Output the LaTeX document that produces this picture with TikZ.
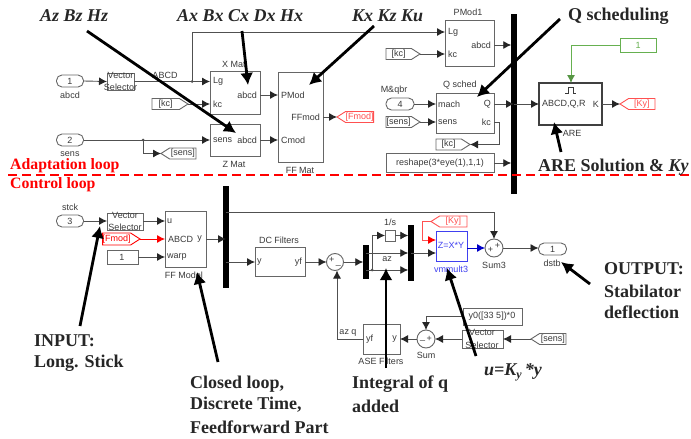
\documentclass[tikz,border=0pt]{standalone}
\usepackage{fontspec}
\setmainfont{Liberation Serif}
\setsansfont{Liberation Sans}
\usetikzlibrary{arrows.meta,shapes.symbols,shapes.geometric}
\definecolor{ln}{HTML}{505050}
\definecolor{tx}{HTML}{3A3A3A}
\definecolor{bx}{HTML}{666666}
\definecolor{rd}{HTML}{FF0000}
\definecolor{lrd}{HTML}{FF5050}
\definecolor{bl}{HTML}{0000C8}
\definecolor{lbl}{HTML}{4040F0}
\definecolor{gr}{HTML}{66B050}
\newcommand{\bk}[6][]{% name x1 y1 x2 y2
  \pgfmathsetmacro{\mycx}{(#3+#5)/2}\pgfmathsetmacro{\mycy}{(#4+#6)/2}%
  \pgfmathsetmacro{\myw}{#5-#3}\pgfmathsetmacro{\myh}{#6-#4}%
  \node[blk,minimum width=\myw pt,minimum height=\myh pt,#1] (#2) at (\mycx,\mycy) {};}
\tikzset{
  x=1pt,y=-1pt,
  blk/.style={draw=bx,line width=.9pt,inner sep=0,outer sep=0,rectangle},
  pill/.style={draw=bx,line width=.9pt,inner sep=0,outer sep=0,rectangle,rounded corners=5.5pt,minimum width=27pt,minimum height=12pt,text=tx,font=\sffamily\fontsize{9}{9}\selectfont},
  lab/.style={inner sep=0,text=tx,font=\sffamily\fontsize{9}{9}\selectfont},
  conn/.style={draw=ln,line width=.9pt,-{Latex[length=8pt,width=8pt,color=black!85]}},
  plain/.style={draw=ln,line width=.9pt},
  tagR/.style={signal,signal to=east,signal from=nowhere,signal pointer angle=65,draw=bx,line width=.9pt,inner sep=0,outer sep=0,minimum height=11pt,anchor=east,text=tx,font=\sffamily\fontsize{9}{9}\selectfont},
  tagL/.style={signal,signal to=west,signal from=nowhere,signal pointer angle=65,draw=bx,line width=.9pt,inner sep=0,outer sep=0,minimum height=11pt,anchor=west,text=tx,font=\sffamily\fontsize{9}{9}\selectfont},
  bus/.style={fill=black,draw=none,inner sep=0,outer sep=0,rectangle},
  sumc/.style={circle,draw=bx,line width=.9pt,inner sep=0,outer sep=0,minimum size=18pt},
  dot/.style={circle,fill=ln,inner sep=0,minimum size=3pt},
  big/.style={line width=2.8pt,draw=black,-{Latex[length=12pt,width=13pt]}},
  note/.style={inner sep=0,anchor=west,font=\fontsize{18}{18}\selectfont\bfseries,text=black!85},
  inote/.style={inner sep=0,anchor=west,font=\fontsize{18}{18}\selectfont\bfseries\itshape,text=black!85},
  rednote/.style={inner sep=0,anchor=west,font=\fontsize{15.8}{16}\selectfont\bfseries,text=rd},
}
\begin{document}
\begin{tikzpicture}
\useasboundingbox[fill=white] (0,0) rectangle (691,439);
% ---------- upper part: blocks
\node[pill] (in1) at (70,81) {1};
\node[lab] (in1l) at (70,95) {abcd};
\bk{vs1}{107}{73}{134}{90}
\node[lab] (vs1a) at (120.5,75.5) {Vector};
\node[lab] (vs1b) at (120.5,87) {Selector};
\node[lab] (abcdl) at (165,75) {ABCD};
\bk{xmat}{210}{71}{260}{114}
\node[lab] (xmatl) at (234,64) {X Mat};
\node[lab,anchor=west] (xlg) at (213,81) {Lg};
\node[lab,anchor=west] (xkc) at (213,104) {kc};
\node[lab,anchor=east] (xab) at (257,95) {abcd};
\node[tagR,minimum width=36pt] (kc1) at (188,104) {[kc]};
\bk{zmat}{210}{124}{260}{156}
\node[lab] (zmatl) at (234,164) {Z Mat};
\node[lab,anchor=west] (zse) at (213,140) {sens};
\node[lab,anchor=east] (zab) at (257,140) {abcd};
\node[pill] (in2) at (70,140) {2};
\node[lab] (in2l) at (70,154) {sens};
\node[tagL,minimum width=35pt] (sens1) at (161,153.5) {[sens]};
\bk{ffmat}{278}{72}{323}{162}
\node[lab] (ffl) at (300,170) {FF Mat};
\node[lab,anchor=west] (ffp) at (281,95) {PMod};
\node[lab,anchor=east] (fff) at (320,117) {FFmod};
\node[lab,anchor=west] (ffc) at (281,140) {Cmod};
\node[tagL,minimum width=35pt,draw=lrd,text=lrd] (fm1) at (337,117) {[Fmod]};
\bk{pm}{445}{20}{494}{66}
\node[lab] (pml) at (468,12) {PMod1};
\node[lab,anchor=west] (plg) at (448,32) {Lg};
\node[lab,anchor=west] (pkc) at (448,54) {kc};
\node[lab,anchor=east] (pab) at (491,45) {abcd};
\node[tagR,minimum width=34pt] (kc2) at (420,54) {[kc]};
\node[bus,minimum width=5.5pt,minimum height=180pt] (bus1) at (514,104) {};
\bk{qs}{436}{93}{494}{133}
\node[lab] (qsl) at (460,85) {Q sched};
\node[lab,anchor=west] (qma) at (438,104) {mach};
\node[lab,anchor=west] (qse) at (438,122) {sens};
\node[lab,anchor=east] (qq) at (491,104) {Q};
\node[lab,anchor=east] (qkc) at (491,122) {kc};
\node[lab] (mq) at (394,90) {M\&qbr};
\node[pill,minimum width=28pt] (in4) at (400,104) {4};
\node[tagR,minimum width=34pt] (sens2) at (420,122) {[sens]};
\node[tagR,minimum width=34pt] (kc3) at (470,144.5) {[kc]};
\coordinate (qkcr) at (499,122);
\bk{rs}{386}{153}{494}{172}
\node[lab] (rst) at (440,163) {reshape(3*eye(1),1,1)};
\bk[line width=1.5pt,draw=black!75]{are}{539}{83}{602}{125}
\node[lab,anchor=west] (aa) at (542,104) {ABCD,Q,R};
\node[lab,anchor=east] (ak) at (599,104) {K};
\node[lab] (arel) at (572,133) {ARE};
\draw[line width=.8pt,draw=tx] (565,93) -- (568,93) -- (568,87) -- (573,87) -- (573,93) -- (576,93);
\node[tagL,minimum width=35pt,draw=lrd,text=lrd] (ky1) at (620,104) {[Ky]};
\bk[draw=gr]{g1}{620}{38}{656}{52}
\node[lab,text=gr] (g1t) at (638,45) {1};
\coordinate (g1c) at (571,45);
% ---------- upper part: connectors
\draw[conn] (in1.east) -- (vs1.west);
\draw[conn] (vs1.east) -- (xmat.west |- vs1.east);
\node[dot] (j1) at (192,81.5) {};
\coordinate (j1t) at (192,32);
\draw[conn] (j1.center) -- (j1t) -- (pm.west |- j1t);
\draw[conn] (kc1.east) -- (xmat.west |- kc1.east);
\draw[conn] (xmat.east |- xab) -- (ffmat.west |- xab);
\draw[conn] (in2.east) -- (zmat.west |- in2.east);
\node[dot] (j2) at (143,140) {};
\draw[conn] (j2.center) |- (sens1.west);
\draw[conn] (zmat.east |- zab) -- (ffmat.west |- zab);
\draw[conn] (ffmat.east |- fm1.west) -- (fm1.west);
\draw[conn] (kc2.east) -- (pm.west |- kc2.east);
\draw[conn] (pm.east |- pab) -- (bus1.west |- pab);
\draw[conn] (in4.east) -- (qs.west |- in4.east);
\draw[conn] (sens2.east) -- (qs.west |- sens2.east);
\draw[conn] (qs.east |- qq) -- (bus1.center |- qq);
\draw[conn] (bus1.center |- aa) -- (are.west |- aa);
\draw[plain] (qs.east |- qkc) -- (qkcr);
\draw[conn] (qkcr) |- (kc3.east);
\draw[conn] (rs.east |- rst) -- (bus1.west |- rst);
\draw[conn] (are.east |- ak) -- (ky1.west);
\draw[draw=gr,line width=.9pt,-{Latex[length=8pt,width=8pt,color=gr!85!black]}] (g1.west) -- (g1c) -- (g1c |- are.north);
% ---------- lower part: blocks
\node[lab] (stl) at (70,207) {stck};
\node[pill] (in3) at (70,221) {3};
\bk{vs2}{107}{213}{143}{230}
\node[lab] (vs2a) at (125,215.5) {Vector};
\node[lab] (vs2b) at (125,227) {Selector};
\bk{ffm}{165}{211}{206}{267}
\node[lab] (ffml) at (184,275) {FF Model};
\node[lab,anchor=west] (fu) at (167,221) {u};
\node[lab,anchor=west] (fa) at (168,239) {ABCD};
\node[lab,anchor=west] (fw) at (167,257) {warp};
\node[lab,anchor=east] (fy) at (202,239) {y};
\node[tagR,minimum width=33pt,minimum height=12pt,draw=rd,text=rd] (fm2) at (140,239) {[Fmod]};
\bk{one}{107}{250}{138}{264}
\node[lab] (onet) at (122,257) {1};
\node[bus,minimum width=5.5pt,minimum height=102pt] (bus2) at (226,237) {};
\bk{dc}{255}{247}{305}{276}
\node[lab] (dcl) at (279,240) {DC Filters};
\node[lab,anchor=west] (dy) at (257,262) {y};
\node[lab,anchor=east] (dyf) at (302,262) {yf};
\node[sumc,minimum size=17pt] (s1) at (335,262) {};
\node[lab] (s1t) at (335,262) {+\,\raisebox{-2pt}{\_}};
\coordinate (azc) at (337,339);
\node[lab] (azq) at (348,333) {az q};
\bk{ase}{363}{324}{400}{354}
\node[lab] (asel) at (381,361) {ASE Filters};
\node[lab,anchor=west] (ayf) at (366,339) {yf};
\node[lab,anchor=east] (ay) at (397,339) {y};
\node[bus,minimum width=5.5pt,minimum height=34pt] (bus3) at (366,262) {};
\node[blk,minimum width=10pt,minimum height=11pt] (int) at (390,235.5) {};
\node[lab] (intl) at (390,222) {1/s};
\node[lab] (azl) at (387,259) {az};
\node[bus,minimum width=5.5pt,minimum height=56pt] (bus4) at (411,253) {};
\bk[draw=lbl]{vm}{436}{231}{467}{261}
\node[lab,text=lbl] (vmt) at (451,245) {Z=X*Y};
\node[lab,text=lbl] (vml) at (451,269) {vmmult3};
\node[tagL,minimum width=36pt,draw=lrd,text=lrd] (ky2) at (431,221.5) {[Ky]};
\coordinate (kyc) at (422,221.5);
\node[sumc] (s3) at (494,248) {};
\node[lab] (s3t) at (494,248) {\raisebox{-2pt}{+}\,\raisebox{2pt}{+}};
\node[lab] (s3l) at (494,265) {Sum3};
\node[pill,minimum width=28pt] (out1) at (552.5,249) {1};
\node[lab] (outl) at (552,263) {dstb};
\bk{y0}{463}{308}{522}{325}
\node[lab] (y0t) at (492,316.5) {y0([33 5])*0};
\node[sumc] (s2) at (426,339) {};
\node[lab] (s2t) at (426,339) {\raisebox{2pt}{\_}\,+};
\node[lab] (s2l) at (426,355) {Sum};
\bk{vs3}{462}{330}{503}{348}
\node[lab] (vs3a) at (482,332.5) {Vector};
\node[lab] (vs3b) at (482,345) {Selector};
\node[tagL,minimum width=35pt] (sens3) at (531,339) {[sens]};
% ---------- lower part: connectors
\draw[conn] (in3.east) -- (vs2.west |- in3.east);
\draw[conn] (vs2.east |- fu) -- (ffm.west |- fu);
\draw[draw=rd,line width=.9pt,-{Latex[length=8pt,width=8pt,color=rd]}] (fm2.east) -- (ffm.west |- fa);
\draw[conn] (one.east) -- (ffm.west |- one.east);
\draw[conn] (ffm.east |- fy) -- (bus2.center |- fy);
\coordinate (tl) at (494,212);
\draw[conn] (bus2.center |- tl) -- (tl) -- (s3.north);
\draw[conn] (bus2.center |- dy) -- (dc.west |- dy);
\draw[conn] (dc.east |- dyf) -- (s1.west);
\draw[plain] (ase.west |- ayf) -- (azc);
\draw[conn] (azc) -- (azc |- s1.south);
\draw[conn] (s1.east) -- (bus3.west);
\coordinate (br) at (372,253);
\coordinate (brT) at (372,235.5);
\coordinate (brB) at (372,270);
\draw[conn] (bus3.center |- br) -- (bus4.west |- br);
\draw[conn] (br) -- (brT) -- (int.west);
\draw[conn] (int.east) -- (bus4.west |- int.east);
\draw[conn] (bus3.center |- brB) -- (bus4.west |- brB);
\draw[plain] (br) -- (brB);
\node[dot] (j3) at (brB) {};
\coordinate (vmA) at (436,253);
\coordinate (vmB) at (436,240);
\draw[conn] (bus4.center |- vmA) -- (vmA);
\draw[draw=lrd,line width=.9pt,-{Latex[length=8pt,width=8pt,color=rd]}] (ky2.west) -- (kyc) |- (vmB);
\draw[draw=bl,line width=.9pt,-{Latex[length=8pt,width=8pt,color=bl]}] (vm.east |- s3) -- (s3.west);
\draw[conn] (s3.east) -- (out1.west |- s3);
\coordinate (y0c) at (426,316.5);
\draw[conn] (y0.west) -- (y0c) -- (s2.north);
\draw[conn] (vs3.west |- s2) -- (s2.east);
\draw[conn] (s2.west) -- (ase.east |- s2);
\draw[conn] (sens3.west) -- (vs3.east |- sens3.west);
% ---------- red separator
\coordinate (sepa) at (8,175);
\coordinate (sepb) at (691,175);
\draw[draw=rd,line width=1.6pt,dash pattern=on 9pt off 5pt] (sepa) -- (sepb);
\node[rednote] (adl) at (10,166) {Adaptation loop};
\node[rednote] (cnl) at (10,185) {Control loop};
% ---------- annotations
\node[inote] (nAz) at (40,16) {Az Bz Hz};
\node[inote] (nAx) at (177,16) {Ax Bx Cx Dx Hx};
\node[inote] (nKx) at (352,16) {Kx Kz Ku};
\node[note] (nQ) at (568,16) {Q scheduling};
\node[note] (nAre) at (538,167) {ARE Solution \& \textit{Ky}};
\node[note] (nIn1) at (34,341) {INPUT:};
\node[note] (nIn2) at (34,363) {Long. Stick};
\node[note] (nC1) at (190,384) {Closed loop,};
\node[note] (nC2) at (190,405) {Discrete Time,};
\node[note] (nC3) at (190,427) {Feedforward Part};
\node[note] (nI1) at (352,384) {Integral of q};
\node[note] (nI2) at (352,406) {added};
\node[inote] (nU) at (484,372) {u=K\raisebox{-3pt}{\fontsize{12}{12}\selectfont y}\,*y};
\node[note] (nO1) at (604,269) {OUTPUT:};
\node[note] (nO2) at (604,291) {Stabilator};
\node[note] (nO3) at (604,312) {deflection};
\coordinate (a1s) at (87,31);  \coordinate (a1e) at (236,133);
\coordinate (a2s) at (242,31); \coordinate (a2e) at (248,85);
\coordinate (a3s) at (374,26); \coordinate (a3e) at (309,85);
\coordinate (a4s) at (560,19); \coordinate (a4e) at (477,97);
\coordinate (a5s) at (561,152);\coordinate (a5e) at (554,122);
\coordinate (a6s) at (80,326); \coordinate (a6e) at (100,226);
\coordinate (a7s) at (218,362);\coordinate (a7e) at (197,272);
\coordinate (a8s) at (386,368);\coordinate (a8e) at (386,268);
\coordinate (a9s) at (476,356);\coordinate (a9e) at (447,268);
\coordinate (a10s) at (590,284);\coordinate (a10e) at (561,262);
\foreach \i in {1,...,10}{\draw[big] (a\i s) -- (a\i e);}
\end{tikzpicture}
\end{document}
